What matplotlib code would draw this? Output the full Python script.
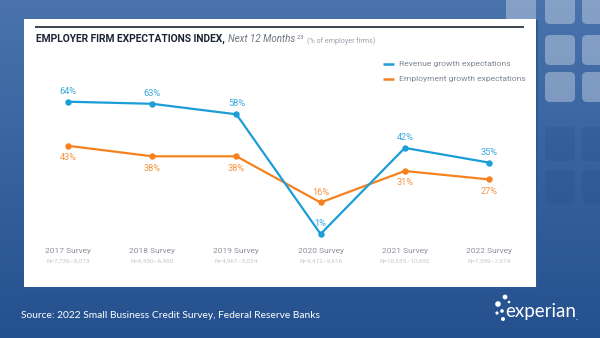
import matplotlib
matplotlib.use('Agg')
import matplotlib.pyplot as plt
import numpy as np
from matplotlib.patches import Rectangle, FancyBboxPatch, Circle
from matplotlib.transforms import blended_transform_factory

# --- DATI ---
surveys = ['2017 Survey', '2018 Survey', '2019 Survey', '2020 Survey', '2021 Survey', '2022 Survey']
sample_sizes = ['N=7,736–8,073', 'N=6,450–6,480', 'N=4,967–5,024',
                'N=9,412–9,616', 'N=10,635–10,692', 'N=7,599–7,674']
revenue = [64, 63, 58, 1, 42, 35]
employment = [43, 38, 38, 16, 31, 27]
revenue_label_side = ['above', 'above', 'above', 'above', 'above', 'above']
employment_label_side = ['below', 'below', 'below', 'above', 'below', 'below']

BLUE = '#1b9ed8'
ORANGE = '#f5821f'
BLUE_TXT = '#3aa9de'
ORANGE_TXT = '#f7923f'
GRAY = '#8b929b'
LIGHT_GRAY = '#c3c8cf'
NAVY = '#1b2433'

W, H = 600, 338
fig = plt.figure(figsize=(W / 100, H / 100), dpi=100)

# --- SFONDO (coordinate in pixel) ---
bg = fig.add_axes([0, 0, 1, 1])
bg.set_xlim(0, W)
bg.set_ylim(H, 0)
bg.axis('off')
top_c = np.array([74, 115, 172]) / 255
bot_c = np.array([36, 80, 143]) / 255
t = np.linspace(0, 1, 256)[:, None]
grad = (top_c * (1 - t) + bot_c * t)[:, None, :]
bg.imshow(grad, extent=[0, W, H, 0], aspect='auto', zorder=0)

# quadrati decorativi
light_sq = [(506, -8), (545, -6), (582, -6), (545, 35), (582, 35), (545, 72), (582, 72)]
for x0, y0 in light_sq:
    bg.add_patch(FancyBboxPatch((x0 + 3, y0 + 3), 24, 24, boxstyle='round,pad=3,rounding_size=5',
                                fc='white', ec='none', alpha=0.33, zorder=1))
dark_sq = [(545, 127), (582, 127), (545, 170), (582, 170)]
for x0, y0 in dark_sq:
    bg.add_patch(FancyBboxPatch((x0 + 3, y0 + 3), 24, 28, boxstyle='round,pad=3,rounding_size=5',
                                fc='#1d4788', ec='none', alpha=0.2, zorder=1))

# pannello bianco
bg.add_patch(Rectangle((25, 20), 513, 269, fc='#2b5896', ec='none', zorder=2))
bg.add_patch(Rectangle((24, 19), 512, 268, fc='white', ec='none', zorder=3))
bg.plot([35, 524], [27, 27], color=NAVY, lw=1.2, zorder=4, solid_capstyle='butt')

# titolo
t1 = bg.text(36, 42, 'EMPLOYER FIRM EXPECTATIONS INDEX,', fontsize=7.4, fontweight='bold',
             family='Roboto', color=NAVY, va='baseline', ha='left', zorder=5)
t2 = bg.annotate('Next 12 Months', xy=(1, 0), xycoords=t1, xytext=(2.5, 0), textcoords='offset points',
                 fontsize=7.0, style='italic', family='Roboto', color='#6d7580',
                 va='bottom', ha='left', zorder=5)
t3 = bg.annotate('2,3', xy=(1, 0), xycoords=t2, xytext=(0.5, 3.4), textcoords='offset points',
                 fontsize=4.0, family='Roboto', color='#6d7580', va='bottom', ha='left', zorder=5)
bg.annotate('(% of employer firms)', xy=(1, 0), xycoords=t3, xytext=(2.5, -3.7), textcoords='offset points',
            fontsize=5.1, family='Roboto', color='#9aa1aa', va='bottom', ha='left', zorder=5)

# legenda
for yy, col, lab in [(64, BLUE, 'Revenue growth expectations'),
                     (79, ORANGE, 'Employment growth expectations')]:
    bg.plot([383, 394], [yy, yy], color=col, lw=1.8, solid_capstyle='butt', zorder=5)
    bg.text(399, yy, lab, fontsize=6.1, family='Roboto', color='#7d8792',
            va='center', ha='left', zorder=5)

# fonte e logo
bg.text(21, 315, 'Source: 2022 Small Business Credit Survey, Federal Reserve Banks',
        fontsize=7.4, family='Lato', color='white', va='center', ha='left', zorder=5)
logo = bg.text(505, 312, 'experian', fontsize=13.5, family='Lato', color='white',
               va='center', ha='left', zorder=5)
bg.annotate('.', xy=(1, 0), xycoords=logo, xytext=(0, 0), textcoords='offset points',
            fontsize=6, family='Lato', color='white', va='bottom', ha='left', zorder=5)
for cx, cy, r in [(505, 297, 2.4), (498, 304, 2.8), (502, 311, 1.8), (497, 313, 1.6),
                  (503, 319, 2.0), (509, 302, 1.3)]:
    bg.add_patch(Circle((cx, cy), r, fc='white', ec='none', zorder=5))

# --- GRAFICO ---
# x: indice 0 -> px 68, passo 84.2 ; y: 2.1 px per punto percentuale
px_l, px_r, px_t, px_b = 40, 520, 60, 270
ax = fig.add_axes([px_l / W, 1 - px_b / H, (px_r - px_l) / W, (px_b - px_t) / H])
ax.patch.set_alpha(0)
ax.axis('off')
ax.set_xlim((px_l - 68) / 84.2, (px_r - 68) / 84.2)
ax.set_ylim((236.1 - px_b) / 2.1, (236.1 - px_t) / 2.1)

x = np.arange(len(surveys))
ax.plot(x, employment, color=ORANGE, lw=1.6, marker='o', markersize=3.6, zorder=3)
ax.plot(x, revenue, color=BLUE, lw=1.6, marker='o', markersize=3.6, zorder=4)

for xi, v, side in zip(x, revenue, revenue_label_side):
    off = 7.5 if side == 'above' else -8.5
    ax.annotate(f'{v}%', (xi, v), xytext=(0, off), textcoords='offset points',
                ha='center', va='center', fontsize=6.6, family='Roboto', color=BLUE_TXT)
for xi, v, side in zip(x, employment, employment_label_side):
    off = 7.5 if side == 'above' else -8.5
    ax.annotate(f'{v}%', (xi, v), xytext=(0, off), textcoords='offset points',
                ha='center', va='center', fontsize=6.6, family='Roboto', color=ORANGE_TXT)

tr = blended_transform_factory(ax.transData, fig.transFigure)
for xi, s, n in zip(x, surveys, sample_sizes):
    ax.text(xi, 1 - 251 / H, s, transform=tr, ha='center', va='center',
            fontsize=6.0, family='Roboto', color=GRAY)
    ax.text(xi, 1 - 261 / H, n, transform=tr, ha='center', va='center',
            fontsize=4.6, family='Roboto', color=LIGHT_GRAY)

fig.savefig('out.png', dpi=100)
